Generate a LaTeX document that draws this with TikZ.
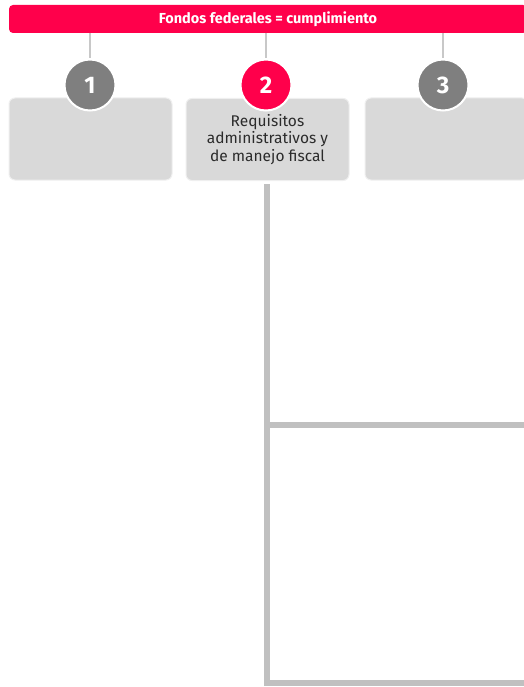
\documentclass[tikz,border=0pt]{standalone}
\usepackage{fontspec}
\setmainfont{Fira Sans}
\definecolor{brand}{HTML}{FF004B}
\definecolor{slate}{HTML}{7F7F7F}
\definecolor{cardfill}{HTML}{D9D9D9}
\definecolor{cardedge}{HTML}{EFEFEF}
\definecolor{linkgray}{HTML}{C8C8C8}
\definecolor{trunkgray}{HTML}{C0C0C0}
\definecolor{ink}{HTML}{2B2B2B}
\tikzset{
  banner/.style={fill=brand, rounded corners=4pt, minimum width=518pt, minimum height=28pt,
    inner sep=0pt, text=white, font=\fontsize{14.5}{16}\selectfont\bfseries},
  card/.style={fill=cardfill, draw=cardedge, line width=1pt, rounded corners=6pt,
    minimum width=163pt, minimum height=82pt, inner sep=0pt, align=center, text=ink,
    font=\fontsize{15.5}{17.5}\selectfont},
  badge/.style={circle, draw=white, line width=2pt, minimum size=51pt, inner sep=0pt,
    text=white, font=\fontsize{24}{26}\selectfont\bfseries},
  link/.style={draw=linkgray, line width=2pt},
  trunk/.style={draw=trunkgray, line width=6pt}
}
\begin{document}
\begin{tikzpicture}[x=1pt, y=-1pt]
\useasboundingbox (0,0) rectangle (523,687);

% heading bar
\node[banner] (banner) at (268,19) {Fondos federales = cumplimiento};

% cards
\node[card] (b1) at (90.5,139) {};
\node[card] (b2) at (267.5,139.5) {Requisitos\\administrativos y\\de manejo fiscal};
\node[card] (b3) at (446.5,139) {};

% numbered badges
\node[badge, fill=slate] (c1) at (90,85) {1};
\node[badge, fill=brand] (c2) at (266,85) {2};
\node[badge, fill=slate] (c3) at (443,85) {3};

% ties from the heading bar to the badges
\draw[link] (banner.south -| c1) -- (c1.north);
\draw[link] (banner.south -| c2) -- (c2.north);
\draw[link] (banner.south -| c3) -- (c3.north);

% trunk under the second card with its two branches
\coordinate (fork) at (267,425);
\coordinate (bend) at (267,683);
\coordinate (tipA) at (530,425);
\coordinate (tipB) at (530,683);
\draw[trunk] ([yshift=-3pt]b2.south -| bend) -- (bend) -- (tipB);
\draw[trunk] (fork) -- (tipA);
\end{tikzpicture}
\end{document}
